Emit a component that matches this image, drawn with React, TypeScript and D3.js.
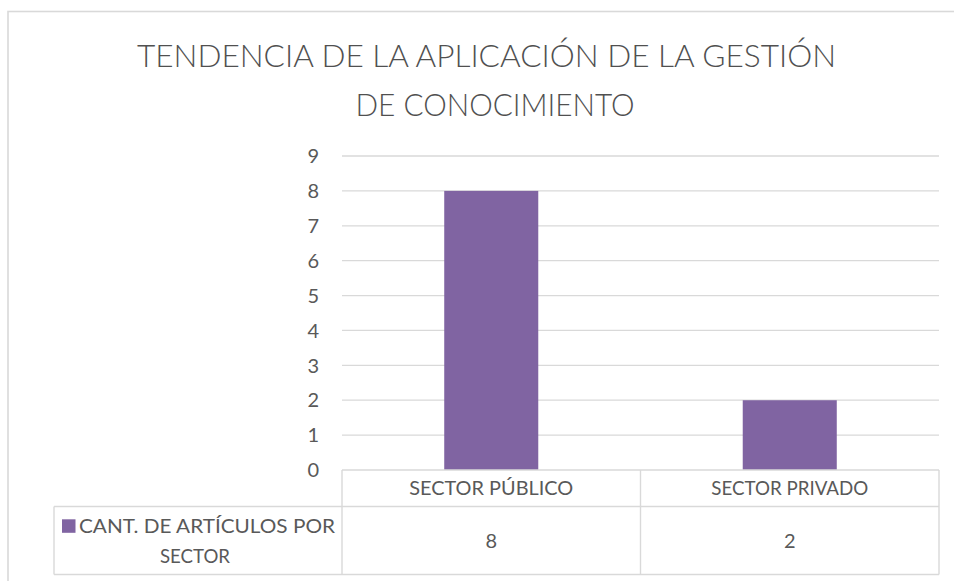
import React from "react";
import * as d3 from "d3";

const titleLines = ["TENDENCIA DE LA APLICACIÓN DE LA GESTIÓN", "DE CONOCIMIENTO"];
const categories = ["SECTOR PÚBLICO", "SECTOR PRIVADO"];
const values = [8, 2];
const seriesName = ["CANT. DE ARTÍCULOS POR", "SECTOR"];
const yTicks = [0, 1, 2, 3, 4, 5, 6, 7, 8, 9];

const W = 954;
const H = 581;
const FONT = "Lato, 'Open Sans', sans-serif";
const TEXT = "#595959";
const GRID = "#d9d9d9";
const BAR = "#8064a2";
const catTextLen = [164, 157];

export default function App() {
  const plotLeft = 342;
  const plotRight = 939;
  const y = d3.scaleLinear().domain([0, 9]).range([470, 156]);
  const x = d3.scaleBand<string>().domain(categories).range([plotLeft, plotRight]).padding(0);
  const barW = x.bandwidth() * 0.315;
  const tableLeft = 54;
  const headerTop = y(0);
  const headerBottom = 506.5;
  const tableBottom = 574.5;
  const rowMid = (headerBottom + tableBottom) / 2;

  return (
    <svg
      width={W}
      height={H}
      style={{ position: "absolute", left: 0, top: 0, background: "#fff" }}
      fontFamily={FONT}
    >
      <rect x={0} y={0} width={W} height={H} fill="#fff" />
      {/* chart frame */}
      <rect x={8} y={11.5} width={W + 20} height={H + 20} fill="none" stroke={GRID} strokeWidth={1.6} />

      {/* title */}
      <text x={486.5} y={66.5} textAnchor="middle" fontSize={31.5} fontWeight={300} fill="#505050"
        textLength={699} lengthAdjust="spacingAndGlyphs">
        {titleLines[0]}
      </text>
      <text x={495} y={115.5} textAnchor="middle" fontSize={31.5} fontWeight={300} fill="#505050"
        textLength={279} lengthAdjust="spacingAndGlyphs">
        {titleLines[1]}
      </text>

      {/* gridlines and ticks */}
      {yTicks.map((t) => (
        <g key={t}>
          {t > 0 && (
            <line x1={plotLeft} x2={plotRight} y1={y(t)} y2={y(t)} stroke={GRID} strokeWidth={1.3} />
          )}
          <text x={319} y={y(t)} dy="0.36em" textAnchor="end" fontSize={20} fill={TEXT}>
            {t}
          </text>
        </g>
      ))}

      {/* bars */}
      {categories.map((c, i) => (
        <rect
          key={c}
          x={(x(c) as number) + (x.bandwidth() - barW) / 2}
          y={y(values[i])}
          width={barW}
          height={y(0) - y(values[i])}
          fill={BAR}
        />
      ))}

      {/* data table */}
      <g stroke={GRID} strokeWidth={1.4} fill="none">
        <line x1={plotLeft} x2={plotRight} y1={headerTop} y2={headerTop} />
        <line x1={tableLeft} x2={plotRight} y1={headerBottom} y2={headerBottom} />
        <line x1={tableLeft} x2={plotRight} y1={tableBottom} y2={tableBottom} />
        <line x1={tableLeft} x2={tableLeft} y1={headerBottom} y2={tableBottom} />
        {categories.map((c) => (
          <line key={c} x1={x(c) as number} x2={x(c) as number} y1={headerTop} y2={tableBottom} />
        ))}
        <line x1={plotRight} x2={plotRight} y1={headerTop} y2={tableBottom} />
      </g>

      {categories.map((c, i) => (
        <g key={c}>
          <text x={(x(c) as number) + x.bandwidth() / 2} y={488} dy="0.36em" textAnchor="middle"
            fontSize={19.5} fill={TEXT} textLength={catTextLen[i]} lengthAdjust="spacingAndGlyphs">
            {c}
          </text>
          <text x={(x(c) as number) + x.bandwidth() / 2} y={rowMid} dy="0.36em" textAnchor="middle"
            fontSize={20} fill={TEXT}>
            {values[i]}
          </text>
        </g>
      ))}

      {/* legend cell */}
      <rect x={62} y={519.3} width={13.5} height={13.5} fill={BAR} />
      <text x={79} y={526} dy="0.36em" fontSize={19.5} fill={TEXT} textLength={256} lengthAdjust="spacingAndGlyphs">
        {seriesName[0]}
      </text>
      <text x={195} y={556} dy="0.36em" textAnchor="middle" fontSize={19.5} fill={TEXT}
        textLength={70} lengthAdjust="spacingAndGlyphs">
        {seriesName[1]}
      </text>
    </svg>
  );
}
